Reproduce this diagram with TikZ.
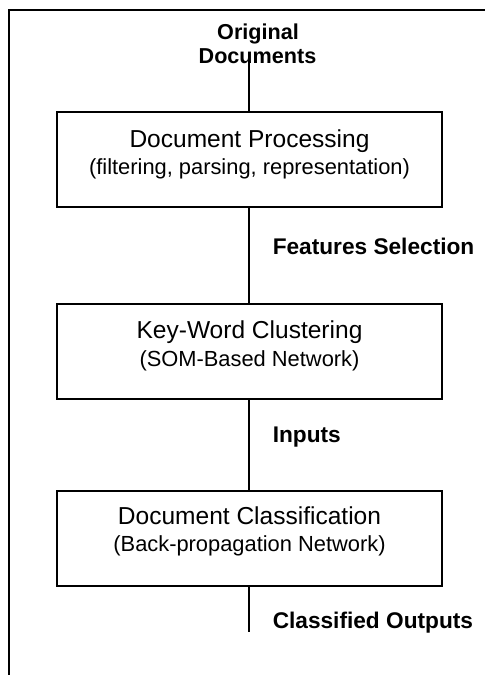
\documentclass[tikz,border=0pt]{standalone}
\usepackage{fontspec}
\setmainfont{Liberation Sans}
\begin{document}
\begin{tikzpicture}[x=0.75pt,y=-0.75pt,
  frameline/.style={line width=1.2pt,line cap=rect},
  procbox/.style={draw,line width=1.2pt,rectangle,minimum width=385*0.75pt,minimum height=95*0.75pt,inner sep=0pt},
  link/.style={line width=1.2pt},
  mainline/.style={inner sep=0pt,anchor=base,font=\fontsize{18.4}{22}\selectfont},
  subline/.style={inner sep=0pt,anchor=base,font=\fontsize{16.4}{20}\selectfont},
  boldlabel/.style={inner sep=0pt,anchor=base west,font=\fontsize{17}{20}\selectfont\bfseries},
  toplabel/.style={inner sep=0pt,anchor=base,font=\fontsize{16.2}{20}\selectfont\bfseries}]
\useasboundingbox (0,0) rectangle (485,675);
% open frame
\coordinate (fa) at (9,675);
\coordinate (fb) at (9,10);
\coordinate (fc) at (486,10);
\draw[frameline] (fa) -- (fb) -- (fc);
% top label
\node[toplabel] (orig1) at (258,39) {Original};
\node[toplabel] (orig2) at (257.5,63) {Documents};
\coordinate (ostart) at (249,56);
% boxes
\node[procbox] (box1) at (249.5,159.5) {};
\node[procbox] (box2) at (249.5,351.5) {};
\node[procbox] (box3) at (249.5,538.5) {};
% box texts
\node[mainline] (b1a) at (249.5,147) {Document Processing};
\node[subline] (b1b) at (249.5,174.5) {(filtering, parsing, representation)};
\node[mainline] (b2a) at (249.5,338.5) {Key-Word Clustering};
\node[subline] (b2b) at (249.5,366.5) {(SOM-Based Network)};
\node[mainline] (b3a) at (249.5,524) {Document Classification};
\node[subline] (b3b) at (249.5,551.5) {(Back-propagation Network)};
% connectors
\coordinate (oend) at (249,632);
\draw[link] (ostart) -- (ostart |- box1.north);
\draw[link] (box1.south -| ostart) -- (box2.north -| ostart);
\draw[link] (box2.south -| ostart) -- (box3.north -| ostart);
\draw[link] (box3.south -| ostart) -- (oend);
% side labels
\node[boldlabel] (lfs) at (272.5,254.5) {Features Selection};
\node[boldlabel] (lin) at (272.5,442) {Inputs};
\node[boldlabel] (lco) at (272.5,628) {Classified Outputs};
\end{tikzpicture}
\end{document}
